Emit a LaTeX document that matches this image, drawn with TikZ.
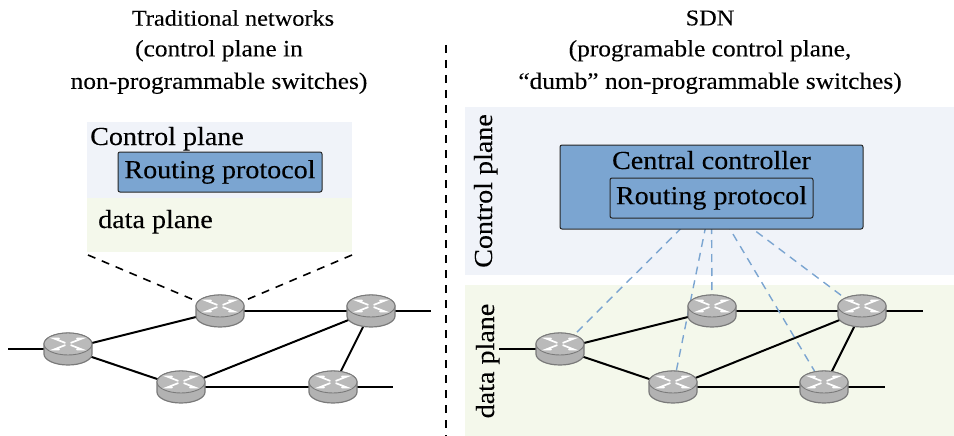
\documentclass[tikz,border=0pt]{standalone}
\usepackage{fontspec}
\setmainfont[FakeStretch=1.08,FakeBold=0.15]{Liberation Serif}
\usetikzlibrary{backgrounds}
\pgfdeclarelayer{conn}
\pgfsetlayers{background,conn,main}
\definecolor{ctrlbg}{HTML}{F0F3F9}
\definecolor{databg}{HTML}{F4F8EB}
\definecolor{boxblue}{HTML}{7BA5D1}
\tikzset{
  x=1pt,y=-1pt,
  rnode/.style={minimum width=48pt,minimum height=32pt,inner sep=0pt},
  region/.style={inner sep=0pt,anchor=north west},
  title/.style={font=\fontsize{22.5}{30}\selectfont,inner sep=0pt},
  sub/.style={font=\fontsize{23.5}{32.5}\selectfont,inner sep=0pt,align=center},
  lab/.style={font=\fontsize{26}{30}\selectfont,inner sep=0pt},
  bluebox/.style={draw=black!85,fill=boxblue,rounded corners=2pt,line width=1pt,inner sep=0pt,font=\fontsize{26}{30}\selectfont},
  link/.style={line width=2pt,black},
  ctl/.style={line width=1.4pt,boxblue,dash pattern=on 8pt off 6pt},
  bdash/.style={line width=1.6pt,black,dash pattern=on 8pt off 7pt},
  router/.pic={
    \path[fill=black!30,draw=black!52,line width=1.2pt]
      (-24,-5) -- (-24,5) arc[start angle=180,end angle=360,x radius=24pt,y radius=11pt] -- (24,-5)
      arc[start angle=0,end angle=180,x radius=24pt,y radius=11pt] -- cycle;
    \draw[black!52,line width=0.9pt,fill=black!27] (0,-5) ellipse[x radius=24pt,y radius=11pt];
    \foreach \sx in {-1,1}\foreach \sy in {-1,1}
      \draw[white,line width=1.7pt,line cap=round] (\sx*3,\sy*1.2-5) -- (\sx*14,\sy*5.5-5) -- (\sx*9,\sy*5.5-5);
  },
}
\begin{document}
\begin{tikzpicture}
\useasboundingbox (0,0) rectangle (954,436);
% regions
\begin{pgfonlayer}{background}
\node[region,fill=ctrlbg,minimum width=265pt,minimum height=76pt] (lc) at (87,122) {};
\node[region,fill=databg,minimum width=265pt,minimum height=54pt] (ld) at (87,198) {};
\node[region,fill=ctrlbg,minimum width=489pt,minimum height=168pt] (rc) at (465,107) {};
\node[region,fill=databg,minimum width=489pt,minimum height=151pt] (rd) at (465,285) {};
\end{pgfonlayer}
% titles
\node[title] (t1) at (233,18) {Traditional networks};
\node[sub] (s1) at (219,67) {(control plane in\\non-programmable switches)};
\node[title] (t2) at (710,18) {SDN};
\node[sub] (s2) at (710,67) {(programable control plane,\\“dumb” non-programmable switches)};
% labels
\node[lab,anchor=base west] (l1) at (90,145) {Control plane};
\node[lab,anchor=base west] (l2) at (98,228) {data plane};
\node[lab,rotate=90,anchor=base] (l3) at (492,191) {Control plane};
\node[lab,rotate=90,anchor=base] (l4) at (494,361) {data plane};
% boxes
\node[bluebox,minimum width=204pt,minimum height=40pt] (lrp) at (220,172) {Routing protocol};
\node[bluebox,minimum width=303pt,minimum height=84pt] (cc) at (711.5,187) {};
\node[lab,anchor=base] (cct) at (711.5,169) {Central controller};
\node[bluebox,minimum width=203pt,minimum height=40pt] (rrp) at (711.5,198) {Routing protocol};
% routers
\foreach \n/\px/\py in {a1/68/349,a2/220/311,a3/371/311,a4/181/387,a5/333/387,
                        b1/560/349,b2/712/311,b3/862/311,b4/673/387,b5/824/387}
  \node[rnode] (\n) at (\px,\py) {};
\coordinate (ae1) at (8,349);
\coordinate (ae2) at (431,311);
\coordinate (ae3) at (393,387);
\coordinate (be1) at (499,349);
\coordinate (be2) at (923,311);
\coordinate (be3) at (885,387);
\coordinate (dl1) at (88,255);
\coordinate (dl2) at (352,255);
\coordinate (sep1) at (446,45);
\coordinate (sep2) at (446,436);
\begin{pgfonlayer}{conn}
\foreach \p in {a,b}{
  \draw[link] (\p e1) -- (\p1.center);
  \draw[link] (\p1.center) -- (\p2.center);
  \draw[link] (\p1.center) -- (\p4.center);
  \draw[link] (\p2.center) -- (\p3.center);
  \draw[link] (\p3.center) -- (\p e2);
  \draw[link] (\p4.center) -- (\p3.center);
  \draw[link] (\p4.center) -- (\p5.center);
  \draw[link] (\p5.center) -- (\p e3);
  \draw[link] (\p5.center) -- (\p3.center);
}
\draw[bdash] (dl1) -- (a2.center);
\draw[bdash] (dl2) -- (a2.center);
\draw[bdash] (sep1) -- (sep2);
\foreach \n in {b1,b2,b3,b4,b5}
  \draw[ctl] (rrp.center) -- (\n.center);
\end{pgfonlayer}
\foreach \n in {a1,a2,a3,a4,a5,b1,b2,b3,b4,b5}
  \pic at (\n) {router};
\end{tikzpicture}
\end{document}
